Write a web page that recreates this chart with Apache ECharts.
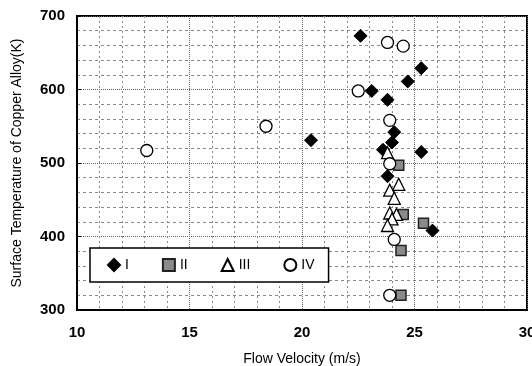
<!DOCTYPE html>
<html>
<head>
<meta charset="utf-8">
<script src="https://cdn.jsdelivr.net/npm/echarts@6/dist/echarts.min.js"></script>
<style>
  html, body { margin: 0; padding: 0; background: #fff; }
  #chart { width: 532px; height: 366px; }
</style>
</head>
<body>
<div id="chart"></div>
<script>
// [velocity m/s, temperature K]
const seriesI = [
  [22.6, 673], [25.3, 629], [24.7, 611], [23.1, 598], [23.8, 586],
  [24.1, 542], [20.4, 531], [24.0, 528], [23.6, 518], [25.3, 515],
  [23.8, 482], [25.8, 408]
];
const seriesII = [
  [24.3, 497], [24.5, 430], [25.4, 418], [24.4, 381], [24.4, 320]
];
const seriesIII = [
  [23.8, 514], [24.3, 471], [23.9, 463], [24.1, 452],
  [23.9, 432], [24.2, 430], [24.0, 424], [23.8, 415]
];
const seriesIV = [
  [23.8, 664], [24.5, 659], [22.5, 598], [23.9, 558], [23.9, 499],
  [18.4, 550], [13.1, 517], [24.1, 396], [23.9, 320]
];
const seriesNames = ['I', 'II', 'III', 'IV'];
const xTicks = [10, 15, 20, 25, 30];
const yTicks = [300, 400, 500, 600, 700];

const chart = echarts.init(document.getElementById('chart'));

const labelFont = { color: '#000', fontFamily: 'Liberation Sans, Arial', fontSize: 15, fontWeight: 'bold' };
const nameFont = { color: '#000', fontFamily: 'Liberation Sans, Arial', fontSize: 14 };

const option = {
  animation: false,
  backgroundColor: '#fff',
  grid: {
    left: 77, top: 16, right: 5, bottom: 56,
    outerBoundsMode: 'none',
    show: true, borderColor: '#000', borderWidth: 2
  },
  legend: {
    left: 90,
    top: 248,
    data: seriesNames,
    orient: 'horizontal',
    backgroundColor: '#fff',
    borderColor: '#000',
    borderWidth: 1.5,
    borderRadius: 0,
    padding: [10, 14, 10, 17],
    itemGap: 33,
    itemWidth: 12,
    itemHeight: 12,
    textStyle: { color: '#000', fontFamily: 'Liberation Sans, Arial', fontSize: 14 }
  },
  xAxis: {
    type: 'value',
    min: xTicks[0],
    max: xTicks[xTicks.length - 1],
    interval: 5,
    name: 'Flow Velocity (m/s)',
    nameLocation: 'middle',
    nameGap: 42,
    nameTextStyle: nameFont,
    axisLine: { show: true, lineStyle: { color: '#000', width: 2 } },
    axisTick: { show: false },
    axisLabel: Object.assign({ margin: 15 }, labelFont),
    splitLine: { show: true, lineStyle: { color: '#666', type: 'dotted', width: 1 } },
    minorTick: { show: false, splitNumber: 5 },
    minorSplitLine: { show: true, lineStyle: { color: '#888', type: [2, 3], width: 1 } }
  },
  yAxis: {
    type: 'value',
    min: yTicks[0],
    max: yTicks[yTicks.length - 1],
    interval: 100,
    name: 'Surface Temperature of Copper Alloy(K)',
    nameLocation: 'middle',
    nameGap: 53,
    nameTextStyle: nameFont,
    axisLine: { show: true, lineStyle: { color: '#000', width: 2 } },
    axisTick: { show: true, inside: true, length: 4, lineStyle: { color: '#000' } },
    axisLabel: Object.assign({ margin: 12 }, labelFont),
    splitLine: { show: true, lineStyle: { color: '#666', type: 'dotted', width: 1 } },
    minorTick: { show: false, splitNumber: 5 },
    minorSplitLine: { show: true, lineStyle: { color: '#888', type: [3, 3], width: 1 } }
  },
  series: [
    {
      name: 'I', type: 'scatter', data: seriesI, symbol: 'diamond', symbolSize: 13,
      itemStyle: { color: '#000', borderColor: '#000', borderWidth: 1, opacity: 1 }
    },
    {
      name: 'II', type: 'scatter', data: seriesII, symbol: 'rect', symbolSize: 10,
      itemStyle: { color: '#8a8a8a', borderColor: '#222', borderWidth: 1.5, opacity: 1 }
    },
    {
      name: 'III', type: 'scatter', data: seriesIII, symbol: 'triangle', symbolSize: 12,
      itemStyle: { color: '#fff', borderColor: '#000', borderWidth: 1.3, opacity: 1 }
    },
    {
      name: 'IV', type: 'scatter', data: seriesIV, symbol: 'circle', symbolSize: 12,
      itemStyle: { color: '#fff', borderColor: '#000', borderWidth: 1.3, opacity: 1 }
    }
  ]
};

chart.setOption(option);
</script>
</body>
</html>
